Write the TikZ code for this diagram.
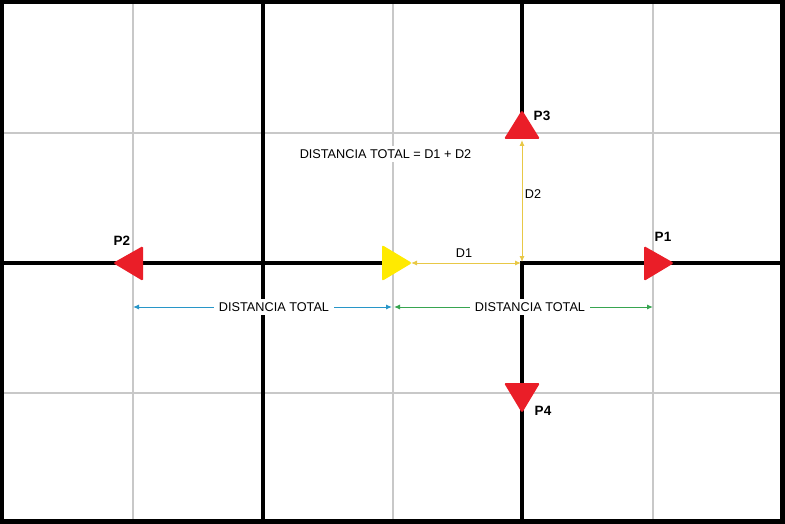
\documentclass[tikz,border=0pt]{standalone}
\usepackage{fontspec}
\setmainfont{Liberation Sans}
\usetikzlibrary{arrows.meta}
\definecolor{gridgray}{RGB}{200,200,200}
\definecolor{pred}{RGB}{234,30,40}
\definecolor{pyellow}{RGB}{255,234,0}
\definecolor{dyellow}{RGB}{232,200,70}
\definecolor{dblue}{RGB}{40,150,200}
\definecolor{dgreen}{RGB}{55,165,80}
\begin{document}
\begin{tikzpicture}[x=1pt,y=-1pt,
  thingrid/.style={draw=gridgray,line width=2pt},
  thickgrid/.style={draw=black,line width=4pt},
  redmarker/.style={fill=pred,rounded corners=1.5pt},
  yellowmarker/.style={fill=pyellow,rounded corners=2pt},
  plabel/.style={font=\bfseries\fontsize{13.5}{15}\selectfont,inner sep=0pt},
  dimline/.style={line width=1pt,{Latex[length=6pt,width=5pt]}-{Latex[length=6pt,width=5pt]}},
  dlabel/.style={font=\fontsize{12.7}{15}\selectfont,fill=white,inner xsep=5pt,inner ysep=4pt},
  plainlabel/.style={font=\fontsize{12.7}{15}\selectfont,inner sep=1pt}]
\useasboundingbox (0,0) rectangle (785,524);
\fill[white] (0,0) rectangle (785,524);
% light grid
\foreach \x in {133,393,653} \draw[thingrid] (\x,0) -- (\x,524);
\foreach \y in {133,393} \draw[thingrid] (0,\y) -- (785,\y);
% heavy grid
\draw[thickgrid] (263,0) -- (263,524);
\draw[thickgrid] (522,0) -- (522,125);
\draw[thickgrid] (522,261) -- (522,524);
\draw[thickgrid] (0,263) -- (395,263);
\draw[thickgrid] (520,263) -- (785,263);
\draw[draw=black,line width=4pt] (2,0) -- (2,524);
\draw[draw=black,line width=4pt] (0,2) -- (785,2);
\draw[draw=black,line width=5pt] (782.5,0) -- (782.5,524);
\draw[draw=black,line width=5pt] (0,521.5) -- (785,521.5);
% markers
\fill[redmarker] (644,246) -- (674,263) -- (644,281) -- cycle; % P1
\fill[redmarker] (143,246) -- (113,263) -- (143,281) -- cycle; % P2
\fill[redmarker] (504,139) -- (522,110) -- (540,139) -- cycle; % P3
\fill[redmarker] (504,383) -- (522,413) -- (540,383) -- cycle; % P4
\fill[yellowmarker] (382,245) -- (412,263) -- (382,281) -- cycle;
% marker labels
\node[plabel] (p1) at (663,237) {P1};
\node[plabel] (p2) at (122,241) {P2};
\node[plabel] (p3) at (542,116) {P3};
\node[plabel] (p4) at (543,411) {P4};
% dimension end points
\coordinate (ytip) at (411,263);
\coordinate (corner) at (521,263);
\coordinate (cornerv) at (522,262);
\coordinate (p3base) at (522,140);
\coordinate (bl) at (133,307);
\coordinate (br) at (392,307);
\coordinate (gl) at (394,307);
\coordinate (gr) at (653,307);
% dimensions
\draw[dimline,draw=dyellow,color=dyellow] (ytip) -- (corner);
\draw[dimline,draw=dyellow,color=dyellow] (p3base) -- (cornerv);
\draw[dimline,draw=dblue,color=dblue] (bl) -- (br);
\draw[dimline,draw=dgreen,color=dgreen] (gl) -- (gr);
\node[plainlabel] (d1) at (464,253) {D1};
\node[plainlabel] (d2) at (533,194) {D2};
\node[dlabel] (tb) at (274,307) {DISTANCIA TOTAL};
\node[dlabel] (tg) at (530,307) {DISTANCIA TOTAL};
\node[dlabel] (eq) at (385.5,154) {DISTANCIA TOTAL = D1 + D2};
\end{tikzpicture}
\end{document}
